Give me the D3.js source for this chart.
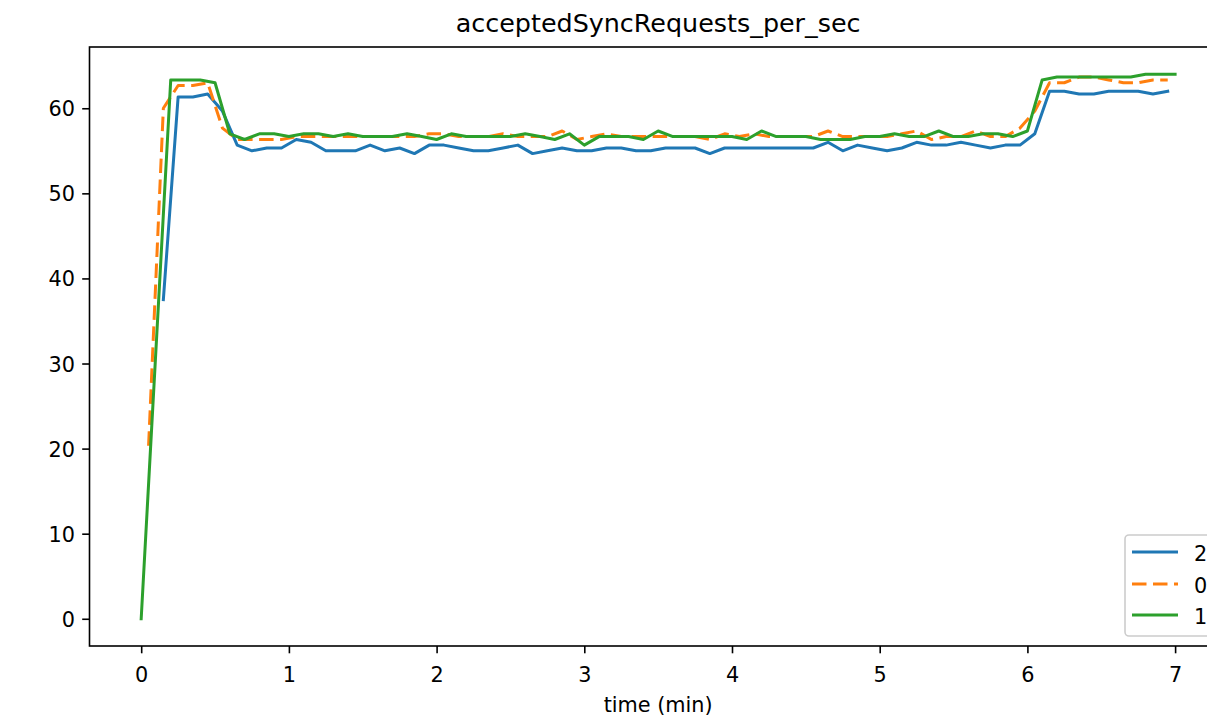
<!DOCTYPE html>
<html>
<head>
<meta charset="utf-8">
<script src="https://cdn.jsdelivr.net/npm/d3@7"></script>
<style>
  html, body { margin: 0; padding: 0; background: #fff; }
  svg { display: block; font-family: "DejaVu Sans", sans-serif; }
</style>
</head>
<body>
<svg id="chart" width="1207" height="719"></svg>
<script>
// ---- data ----
const title = "acceptedSyncRequests_per_sec";
const xLabel = "time (min)";
const xTicks = [0, 1, 2, 3, 4, 5, 6, 7];
const yTicks = [0, 10, 20, 30, 40, 50, 60];
const seriesNames = ["2", "0", "1"];
const seriesColors = ["#1f77b4", "#ff7f0e", "#2ca02c"];

// series "2": samples every 0.1 min starting at 0.15 min
const times2 = [0.15,0.25,0.35,0.45,0.55,0.65,0.75,0.85,0.95,1.05,1.15,1.25,1.35,1.45,1.55,1.65,1.75,1.85,1.95,2.05,2.15,2.25,2.35,2.45,2.55,2.65,2.75,2.85,2.95,3.05,3.15,3.25,3.35,3.45,3.55,3.65,3.75,3.85,3.95,4.05,4.15,4.25,4.35,4.45,4.55,4.65,4.75,4.85,4.95,5.05,5.15,5.25,5.35,5.45,5.55,5.65,5.75,5.85,5.95,6.05,6.15,6.25,6.35,6.45,6.55,6.65,6.75,6.85,6.95];
const values2 = [37.5,61.33,61.33,61.67,59.67,55.67,55.0,55.33,55.33,56.33,56.0,55.0,55.0,55.0,55.67,55.0,55.33,54.67,55.67,55.67,55.33,55.0,55.0,55.33,55.67,54.67,55.0,55.33,55.0,55.0,55.33,55.33,55.0,55.0,55.33,55.33,55.33,54.67,55.33,55.33,55.33,55.33,55.33,55.33,55.33,56.0,55.0,55.67,55.33,55.0,55.33,56.0,55.67,55.67,56.0,55.67,55.33,55.67,55.67,57.0,62.0,62.0,61.67,61.67,62.0,62.0,62.0,61.67,62.0];

// series "0": samples every 0.1 min starting at 0.05 min
const times0 = [0.05,0.15,0.25,0.35,0.45,0.55,0.65,0.75,0.85,0.95,1.05,1.15,1.25,1.35,1.45,1.55,1.65,1.75,1.85,1.95,2.05,2.15,2.25,2.35,2.45,2.55,2.65,2.75,2.85,2.95,3.05,3.15,3.25,3.35,3.45,3.55,3.65,3.75,3.85,3.95,4.05,4.15,4.25,4.35,4.45,4.55,4.65,4.75,4.85,4.95,5.05,5.15,5.25,5.35,5.45,5.55,5.65,5.75,5.85,5.95,6.05,6.15,6.25,6.35,6.45,6.55,6.65,6.75,6.85,6.95];
const values0 = [20.33,60.0,62.67,62.67,63.0,57.67,56.33,56.33,56.33,56.33,56.67,56.67,56.67,56.67,56.67,56.67,56.67,56.67,56.67,57.0,57.0,56.67,56.67,56.67,57.0,56.67,56.67,56.67,57.33,56.33,56.67,57.0,56.67,56.67,56.67,56.67,56.67,56.67,56.33,57.0,56.67,57.0,56.67,56.67,56.67,56.67,57.33,56.67,56.67,56.67,56.67,57.0,57.33,56.33,56.67,56.67,57.33,56.67,56.67,57.67,59.67,63.0,63.0,63.67,63.67,63.33,63.0,63.0,63.33,63.33];

// series "1": samples every 0.1 min starting at 0 min (0.1 missing)
const times1 = [0,0.2,0.3,0.4,0.5,0.6,0.7,0.8,0.9,1.0,1.1,1.2,1.3,1.4,1.5,1.6,1.7,1.8,1.9,2.0,2.1,2.2,2.3,2.4,2.5,2.6,2.7,2.8,2.9,3.0,3.1,3.2,3.3,3.4,3.5,3.6,3.7,3.8,3.9,4.0,4.1,4.2,4.3,4.4,4.5,4.6,4.7,4.8,4.9,5.0,5.1,5.2,5.3,5.4,5.5,5.6,5.7,5.8,5.9,6.0,6.1,6.2,6.3,6.4,6.5,6.6,6.7,6.8,6.9,7.0];
const values1 = [0,63.33,63.33,63.33,63.0,57.0,56.33,57.0,57.0,56.67,57.0,57.0,56.67,57.0,56.67,56.67,56.67,57.0,56.67,56.33,57.0,56.67,56.67,56.67,56.67,57.0,56.67,56.33,57.0,55.67,56.67,56.67,56.67,56.33,57.33,56.67,56.67,56.67,56.67,56.67,56.33,57.33,56.67,56.67,56.67,56.33,56.33,56.33,56.67,56.67,57.0,56.67,56.67,57.33,56.67,56.67,57.0,57.0,56.67,57.33,63.33,63.67,63.67,63.67,63.67,63.67,63.67,64.0,64.0,64.0];

// ---- layout ----
const svg = d3.select("#chart");
const mLeft = 89.5, mRight = 1226.8, mTop = 47, mBottom = 646;
const x = d3.scaleLinear().domain([-0.35, 7.35]).range([mLeft, mRight]);
const y = d3.scaleLinear().domain([-3.2, 67.2]).range([mBottom, mTop]);

const tickFont = 20.8;
const lw = 3.0;

// lines
const series = [
  {name: seriesNames[0], t: times2, v: values2, color: seriesColors[0], dash: null},
  {name: seriesNames[1], t: times0, v: values0, color: seriesColors[1], dash: "14.5,6.5"},
  {name: seriesNames[2], t: times1, v: values1, color: seriesColors[2], dash: null}
];
const line = d3.line().x(d => x(d[0])).y(d => y(d[1]));
const plot = svg.append("g");
series.forEach(s => {
  const pts = s.t.map((t, i) => [t, s.v[i]]);
  plot.append("path")
    .attr("d", line(pts))
    .attr("fill", "none")
    .attr("stroke", s.color)
    .attr("stroke-width", lw)
    .attr("stroke-linejoin", "round")
    .attr("stroke-linecap", s.dash ? "butt" : "square")
    .attr("stroke-dasharray", s.dash);
});

// axes
const xAxis = d3.axisBottom(x).tickValues(xTicks).tickSize(7.3).tickPadding(7).tickFormat(d3.format("d"));
const yAxis = d3.axisLeft(y).tickValues(yTicks).tickSize(7.3).tickPadding(7).tickFormat(d3.format("d"));
const gx = svg.append("g").attr("transform", `translate(0,${mBottom})`).call(xAxis);
const gy = svg.append("g").attr("transform", `translate(${mLeft},0)`).call(yAxis);
[gx, gy].forEach(g => {
  g.select(".domain").remove();
  g.selectAll(".tick line").attr("stroke", "#000").attr("stroke-width", 1.6);
  g.selectAll(".tick text").attr("fill", "#000").attr("font-size", tickFont).attr("font-family", "DejaVu Sans");
});
gx.selectAll(".tick text").attr("dy", 0).attr("y", 36);
gy.selectAll(".tick text").attr("x", -14.6).attr("dy", "0.36em");

// spines
const spine = svg.append("g").attr("fill", "none").attr("stroke", "#000").attr("stroke-width", 1.6);
spine.append("rect").attr("x", mLeft).attr("y", mTop).attr("width", mRight - mLeft).attr("height", mBottom - mTop);

// title and label
svg.append("text").attr("x", (mLeft + mRight) / 2).attr("y", 32)
  .attr("text-anchor", "middle").attr("font-size", 25.4).attr("fill", "#000").text(title);
svg.append("text").attr("x", (mLeft + mRight) / 2).attr("y", 712)
  .attr("text-anchor", "middle").attr("font-size", tickFont).attr("fill", "#000").text(xLabel);

// legend
const lg = svg.append("g");
lg.append("rect").attr("x", 1125).attr("y", 535).attr("width", 94).attr("height", 101)
  .attr("rx", 4).attr("fill", "#fff").attr("fill-opacity", 0.8)
  .attr("stroke", "#cccccc").attr("stroke-width", 1.6);
const rowY = [552, 584, 615];
series.forEach((s, i) => {
  lg.append("line").attr("x1", 1132).attr("x2", 1178).attr("y1", rowY[i]).attr("y2", rowY[i])
    .attr("stroke", s.color).attr("stroke-width", lw)
    .attr("stroke-dasharray", s.dash);
  lg.append("text").attr("x", 1194).attr("y", rowY[i] + 8.5)
    .attr("font-size", tickFont).attr("fill", "#000").text(s.name);
});
</script>
</body>
</html>
